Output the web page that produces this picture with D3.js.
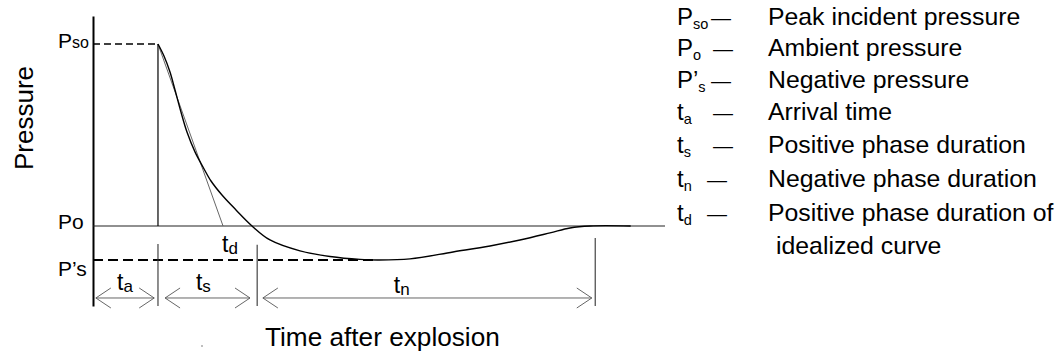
<!DOCTYPE html>
<html><head><meta charset="utf-8">
<script src="https://cdn.jsdelivr.net/npm/d3@7"></script>
<style>
body{margin:0;background:#fff}
svg{display:block}
text{font-family:"Liberation Sans",Arial,Helvetica,sans-serif;fill:#000}
</style>
</head><body>
<svg id="chart" width="1064" height="355"></svg>
<script>
// ---------- data (time in arbitrary units, pressure normalised: Po = 0, Pso = 1) ----------
const curveT = [1.136,1.241,1.346,1.434,1.538,1.643,1.783,1.923,2.063,2.255,2.500,2.780,3.094,3.619,4.143,4.668,4.983,5.542,6.294,6.941,7.465,7.990,8.339,8.689,9.400];
const curveP = [1.000,0.934,0.846,0.747,0.626,0.516,0.407,0.324,0.247,0.170,0.088,0.000,-0.077,-0.137,-0.168,-0.184,-0.187,-0.181,-0.143,-0.110,-0.077,-0.038,-0.011,0.000,0.000];
const idealT = [1.136, 2.273];
const idealP = [1.000, 0.000];
const arrivalT = 1.136;
const levelP = {Pso: 1.0, Po: 0.0, Pneg: -0.187};
const levelLabels = [["P","so",1.0],["P","o",0.0],["P’","s",-0.187]];
const tickT = [1.136, 2.87, 8.78];
const tickTopP = [-0.099, -0.104, -0.066];
const arrowStart = [0.05, 1.26, 2.97];
const arrowEnd = [1.07, 2.745, 8.72];
const arrowLabelT = [0.42, 1.80, 5.26];
const arrowLabelMain = ["t","t","t"];
const arrowLabelSub = ["a","s","n"];
const tdLabel = ["t","d"];
const legendMain = ["P","P","P’","t","t","t","t"];
const legendSub = ["so","o","s","a","s","n","d"];
const legendDesc = ["Peak incident pressure","Ambient pressure","Negative pressure","Arrival time","Positive phase duration","Negative phase duration","Positive phase duration of"];
const legendExtra = "idealized curve";
const xTitle = "Time after explosion";
const yTitle = "Pressure";

// ---------- layout ----------
const svg = d3.select("#chart");
const x = d3.scaleLinear().domain([0, 10]).range([93, 665]);
const y = d3.scaleLinear().domain([-0.44, 1.154]).range([306, 16]);

// y axis (plain vertical line)
svg.append("g").attr("transform","translate(93,0)")
  .call(d3.axisLeft(y).tickValues([]).tickSizeOuter(0))
  .call(g=>g.select(".domain").attr("stroke","#000").attr("stroke-width",2));

// Po ambient line
svg.append("line").attr("x1",x(0)).attr("x2",x(10)).attr("y1",y(levelP.Po)).attr("y2",y(levelP.Po))
  .attr("stroke","#222").attr("stroke-width",1.1);
// Pso dashed
svg.append("line").attr("x1",x(0)).attr("x2",x(arrivalT)).attr("y1",y(levelP.Pso)).attr("y2",y(levelP.Pso))
  .attr("stroke","#000").attr("stroke-width",1.3).attr("stroke-dasharray","7,4");
// P's dashed
const minIdx = curveP.indexOf(d3.min(curveP));
svg.append("line").attr("x1",x(0)).attr("x2",x(curveT[minIdx])-4).attr("y1",y(levelP.Pneg)).attr("y2",y(levelP.Pneg))
  .attr("stroke","#000").attr("stroke-width",2).attr("stroke-dasharray","10,5");
// arrival vertical
svg.append("line").attr("x1",x(arrivalT)).attr("x2",x(arrivalT)).attr("y1",y(levelP.Pso)).attr("y2",y(levelP.Po))
  .attr("stroke","#000").attr("stroke-width",1.2);

// idealized line
svg.append("path").datum(idealT.map((t,i)=>[t,idealP[i]]))
  .attr("d", d3.line().x(d=>x(d[0])).y(d=>y(d[1])))
  .attr("fill","none").attr("stroke","#555").attr("stroke-width",0.9);
// real curve
svg.append("path").datum(curveT.map((t,i)=>[t,curveP[i]]))
  .attr("d", d3.line().x(d=>x(d[0])).y(d=>y(d[1])).curve(d3.curveCatmullRom.alpha(0.5)))
  .attr("fill","none").attr("stroke","#000").attr("stroke-width",1.4);

// phase ticks
svg.selectAll(".ptick").data(tickT).join("line")
  .attr("x1",d=>x(d)).attr("x2",d=>x(d))
  .attr("y1",(d,i)=>y(tickTopP[i])).attr("y2",y(-0.44))
  .attr("stroke","#333").attr("stroke-width",1.1);

// arrows
const ay = y(-0.396);
const ag = svg.append("g").attr("stroke","#555").attr("stroke-width",0.9).attr("fill","none");
arrowStart.forEach((s,i)=>{
  const x1 = x(s), x2 = x(arrowEnd[i]);
  ag.append("line").attr("x1",x1).attr("x2",x2).attr("y1",ay).attr("y2",ay);
  ag.append("path").attr("d",`M${x1+15},${ay-10}L${x1},${ay}L${x1+15},${ay+10}`);
  ag.append("path").attr("d",`M${x2-15},${ay-10}L${x2},${ay}L${x2-15},${ay+10}`);
});

function subText(sel, main, sub, px, py, fs, sfs, sdy){
  const t = sel.append("text").attr("x",px).attr("y",py).attr("font-size",fs);
  t.append("tspan").text(main);
  t.append("tspan").attr("font-size",sfs).attr("dy",sdy).text(sub);
  return t;
}

// arrow labels
arrowLabelMain.forEach((m,i)=>{
  subText(svg, m, arrowLabelSub[i], x(arrowLabelT[i]), i==2?293:290, 23, 17, 2);
});
subText(svg, tdLabel[0], tdLabel[1], x(idealT[1])-1, 252, 23, 17, 2);

// level labels
levelLabels.forEach((d,i)=>{
  const yy = y(d[2]);
  const t = svg.append("text").attr("x",58).attr("y", i==0? yy+4 : (i==1? yy+3: yy+16)).attr("font-size",21);
  t.append("tspan").text(d[0]);
  t.append("tspan").attr("font-size", i==0?16:21).text(d[1]);
});

// titles
svg.append("text").attr("transform","translate(33,118) rotate(-90)").attr("text-anchor","middle")
  .attr("font-size",26).text(yTitle);
svg.append("text").attr("x",265).attr("y",346).attr("font-size",26.2).text(xTitle);
// stray dot
svg.append("circle").attr("cx",202).attr("cy",346).attr("r",1).attr("fill","#aaa");

// legend
const rowY = [25,56,88,120,153,187,221];
const dashX = [711,713,711,713,713,707,707];
const lg = svg.append("g");
legendMain.forEach((m,i)=>{
  const t = lg.append("text").attr("x",677).attr("y",rowY[i]).attr("font-size",24);
  t.append("tspan").text(m);
  t.append("tspan").attr("font-size",14.5).attr("dy",4).text(legendSub[i]);
  lg.append("text").attr("x",dashX[i]).attr("y",rowY[i]).attr("font-size",20).text("—");
  lg.append("text").attr("x",768).attr("y",rowY[i]).attr("font-size",24.8).text(legendDesc[i]);
});
lg.append("text").attr("x",776).attr("y",254).attr("font-size",24.8).text(legendExtra);
</script>
</body></html>
